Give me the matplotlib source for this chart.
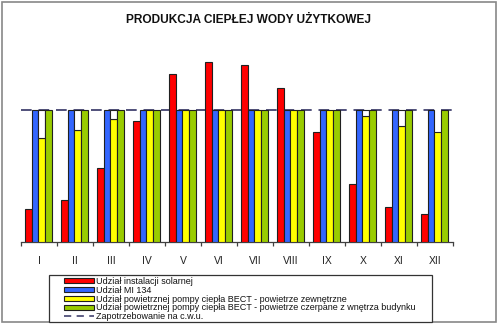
import matplotlib
matplotlib.use("Agg")
import matplotlib.pyplot as plt
from matplotlib.patches import Rectangle, Patch
from matplotlib.lines import Line2D
import numpy as np

plt.rcParams['font.family'] = ['Liberation Sans', 'DejaVu Sans']

months = ["I", "II", "III", "IV", "V", "VI", "VII", "VIII", "IX", "X", "XI", "XII"]
solar = [24.8, 32.0, 56.3, 91.7, 127.3, 136.1, 134.3, 116.7, 83.1, 44.2, 26.5, 21.0]
mi134 = [100] * 12
bect_outdoor = [79.0, 84.6, 93.2, 100, 100, 100, 100, 100, 100, 95.2, 87.7, 83.1]
bect_indoor = [100] * 12
demand = 100
show_gap = [1, 1, 1, 0, 0, 0, 0, 0, 0, 1, 1, 0]

labels = ["Udział instalacji solarnej",
          "Udział MI 134",
          "Udział powietrznej pompy ciepła BECT - powietrze zewnętrzne",
          "Udział powietrznej pompy ciepła BECT - powietrze czerpane z wnętrza budynku",
          "Zapotrzebowanie na c.w.u."]
colors = ["#FF0000", "#3366FF", "#FFFF00", "#99CC00"]
title = "PRODUKCJA CIEPŁEJ WODY UŻYTKOWEJ"

W, H = 500, 326
fig = plt.figure(figsize=(W / 100, H / 100), dpi=100)
ax = fig.add_axes([21 / W, 84 / H, 432 / W, 202 / H])

x = np.arange(len(months))
bw = 0.185
series = [solar, mi134, bect_outdoor, bect_indoor]
ax.axhline(demand, color="#50507a", lw=1.4, dashes=(5.5, 3.5), zorder=1)
for i, (vals, c) in enumerate(zip(series, colors)):
    pos = x + (i - 1.5) * bw - 0.02
    ax.bar(pos, vals, width=bw, color=c, edgecolor="#202020", linewidth=0.8, zorder=3)
    if i == 2:
        gaps = [(demand - v) if g else 0 for v, g in zip(vals, show_gap)]
        for p, v, gp in zip(pos, vals, gaps):
            if gp > 0:
                ax.bar(p, gp, bottom=v, width=bw, color="white",
                       edgecolor="#202020", linewidth=0.8, zorder=3)

ax.set_xlim(-0.5, len(months) - 0.5)
ax.set_ylim(0, 153.03)
for s in ["left", "right", "top"]:
    ax.spines[s].set_visible(False)
ax.spines["bottom"].set_color("#404040")
ax.spines["bottom"].set_linewidth(0.9)
ax.set_yticks([])
ax.set_xticks(np.arange(-0.5, len(months), 1.0))
ax.set_xticklabels([])
ax.tick_params(axis="x", which="major", length=3, width=0.9, color="#404040", direction="out")
ax.set_xticks(x, minor=True)
ax.set_xticklabels(months, minor=True, fontsize=7.5, color="#222222")
ax.tick_params(axis="x", which="minor", length=0, pad=10)

fig.text(249 / W, 1 - 20 / H, title, ha="center", va="center",
         fontsize=8.6, fontweight="bold", color="#111111")

# legend frame
fig.patches.append(Rectangle((49 / W, 4 / H), 383 / W, 47 / H, transform=fig.transFigure,
                             fill=True, facecolor="white", edgecolor="#333333",
                             linewidth=0.9, zorder=5))

handles = [Patch(facecolor=c, edgecolor="#202020", linewidth=0.8) for c in colors]
handles.append(Line2D([0], [0], color="#50507a", lw=1.3, dashes=(4, 3)))
leg = fig.legend(handles, labels, loc="upper left",
                 bbox_to_anchor=(64 / W, 1 - 277 / H),
                 fontsize=6.5, frameon=False,
                 handlelength=3.3, handleheight=0.42, handletextpad=0.3,
                 labelspacing=-0.02, borderpad=0.0, borderaxespad=0)
leg.set_zorder(6)
for t in leg.get_texts():
    t.set_color("#111111")

fig.patches.append(Rectangle((2 / W, 4 / H), 494 / W, 320 / H, transform=fig.transFigure,
                             fill=False, edgecolor="#888888", linewidth=1.2))

fig.savefig("out.png", dpi=100)
